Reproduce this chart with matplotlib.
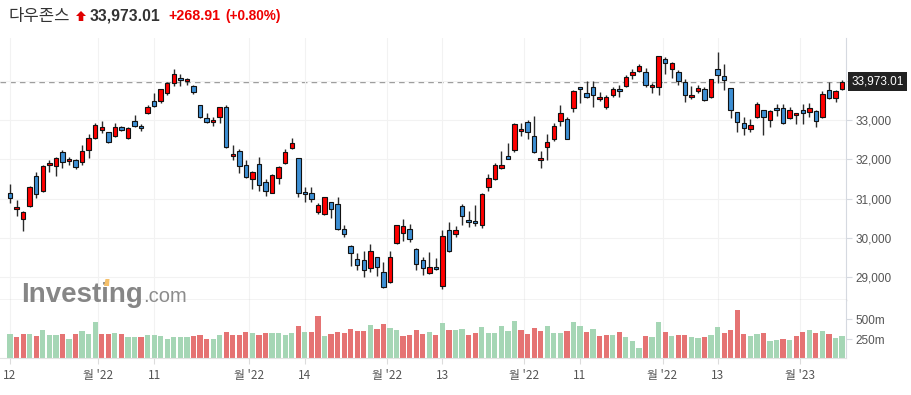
import matplotlib
matplotlib.use("Agg")
import matplotlib.pyplot as plt
from matplotlib.patches import Polygon
from matplotlib.transforms import blended_transform_factory, IdentityTransform

# daily OHLC, Dow Jones
opens = [31137, 30731, 30477, 30816, 31569, 31197, 31849, 31840, 32179, 31950,
         31984, 31925, 32229, 32551, 32754, 32687, 32585, 32814, 32534, 32966,
         32839, 33169, 33474, 33474, 33677, 33948, 34058, 33982, 33864, 33372,
         33042, 32941, 33068, 33322, 32077, 32212, 31849, 31493, 31874, 31417,
         31154, 31518, 31899, 32280, 32026, 31163, 31137, 30655, 30604, 30909,
         30858, 30223, 29791, 29478, 29435, 29232, 29512, 29131, 28885, 29867,
         30121, 30223, 29715, 29435, 29105, 29257, 28792, 30197, 30096, 30816,
         30451, 30426, 30333, 31290, 31493, 31772, 32086, 32238, 32712, 32941,
         32585, 31975, 32306, 32509, 32966, 33017, 33296, 33830, 33677, 33830,
         33525, 33322, 33627, 33779, 33855, 34135, 34236, 34211, 33830, 33830,
         34541, 34287, 34211, 33957, 33576, 33728, 33779, 33576, 34287, 34109,
         33805, 33195, 32915, 32763, 33068, 33245, 32991, 33296, 33296, 33042,
         33119, 33245, 33195, 33220, 33068, 33754, 33550, 33779]
highs = [31366, 30968, 30697, 31324, 31688, 31857, 31984, 32068, 32238, 32052,
         32001, 32365, 32644, 32915, 32983, 32704, 32915, 32848, 32831, 33127,
         32890, 33381, 33677, 33796, 33974, 34295, 34168, 34058, 33889, 33381,
         33169, 33068, 33339, 33381, 32365, 32255, 31984, 31705, 32052, 31501,
         31620, 31832, 32255, 32534, 32043, 31290, 31290, 30883, 31053, 30926,
         31036, 30333, 29825, 29630, 29681, 29842, 29528, 29385, 29664, 30341,
         30477, 30350, 29740, 29528, 29639, 29486, 30206, 30418, 30316, 30858,
         30688, 30841, 31137, 31620, 31899, 32221, 32407, 32915, 32915, 33000,
         33093, 32204, 32636, 32915, 33373, 33085, 33762, 33847, 33982, 33999,
         33703, 33635, 33847, 33889, 34143, 34295, 34422, 34312, 33931, 34634,
         34592, 34482, 34270, 34033, 33855, 33889, 33847, 34041, 34719, 34414,
         33805, 33212, 33068, 33017, 33449, 33262, 33254, 33398, 33398, 33322,
         33178, 33398, 33423, 33254, 33728, 33957, 33754, 34016]
lows = [30883, 30561, 30180, 30799, 31010, 31180, 31671, 31578, 31772, 31857,
        31747, 31857, 32026, 32526, 32678, 32424, 32560, 32729, 32526, 32814,
        32729, 33152, 33322, 33423, 33635, 33864, 33864, 33881, 33652, 33042,
        32915, 32856, 32915, 32280, 31984, 31662, 31518, 31247, 31205, 31078,
        31137, 31366, 31882, 32255, 31053, 30909, 30909, 30612, 30587, 30502,
        30206, 30020, 29291, 29190, 29004, 29148, 29037, 28733, 28868, 29850,
        29927, 29893, 29190, 29063, 29097, 29190, 28699, 29639, 30020, 30333,
        30291, 30308, 30248, 31197, 31476, 31764, 32009, 32196, 32602, 32509,
        32153, 31772, 31984, 32467, 32848, 32509, 33195, 33423, 33567, 33339,
        33491, 33271, 33576, 33593, 33847, 34033, 34211, 33847, 33694, 33627,
        34160, 34075, 33889, 33449, 33542, 33677, 33483, 33567, 33931, 33754,
        33042, 32687, 32611, 32687, 33042, 32611, 32831, 33093, 32898, 33017,
        32890, 32890, 33068, 32831, 33042, 33525, 33449, 33762]
closes = [31010, 30782, 30655, 31307, 31112, 31840, 31899, 32043, 31925, 32009,
          31798, 32212, 32534, 32865, 32814, 32433, 32831, 32754, 32805, 32856,
          32788, 33322, 33364, 33779, 33931, 34160, 34008, 34033, 33720, 33085,
          32941, 32992, 33322, 32306, 32128, 31823, 31544, 31671, 31340, 31188,
          31594, 31798, 32179, 32407, 31137, 31112, 30985, 30832, 31036, 30731,
          30223, 30096, 29613, 29308, 29181, 29681, 29257, 28750, 29512, 30324,
          30307, 29969, 29334, 29232, 29257, 29207, 30045, 29664, 30197, 30553,
          30401, 30375, 31112, 31518, 31849, 31849, 32018, 32890, 32763, 32687,
          32179, 32026, 32433, 32839, 33169, 32526, 33728, 33779, 33576, 33627,
          33576, 33576, 33779, 33728, 34101, 34211, 34363, 33881, 33881, 34617,
          34439, 34439, 33982, 33627, 33627, 33805, 33500, 34033, 34135, 34007,
          33245, 32941, 32788, 32864, 33398, 33068, 33220, 33245, 32915, 33245,
          33169, 33169, 33296, 32966, 33652, 33550, 33728, 33973.01]

# volume in millions, and its colour flag (g = green, r = red)
volumes = [312, 275, 312, 312, 291, 366, 300, 300, 312, 250,
           312, 354, 312, 462, 312, 312, 325, 312, 275, 275,
           275, 300, 300, 287, 250, 275, 275, 275, 287, 300,
           250, 250, 300, 337, 300, 300, 337, 325, 300, 325,
           325, 325, 300, 325, 412, 337, 337, 537, 287, 312,
           337, 325, 375, 350, 350, 425, 375, 437, 387, 362,
           287, 300, 362, 312, 337, 300, 450, 362, 362, 375,
           300, 325, 400, 325, 325, 412, 350, 475, 362, 312,
           387, 350, 412, 325, 325, 350, 462, 412, 337, 375,
           287, 300, 300, 337, 275, 225, 137, 287, 275, 462,
           337, 287, 300, 300, 275, 262, 275, 300, 400, 325,
           362, 612, 312, 287, 312, 325, 225, 237, 250, 237,
           287, 337, 362, 325, 350, 312, 262, 287]
vol_rows = ["grrgrgggrg", "rgggrrgrgg", "rgggggggrr", "rggrrrrgrr",
            "ggggrgrrgr", "rrrrrgrrgg", "rrrrgrgrgg", "rrggggggrr",
            "rrgggrggrg", "rrgrgggrgg", "rgrrggrggr", "rrrggrggrg",
            "rrgrgrgg"]
vol_dir = list("".join(vol_rows))

tick_pos = [0, 13.5, 22, 36.5, 45, 57.6, 66, 78.5, 87, 99.6, 108, 120.6]
tick_labels = ["12", "월 '22", "11", "월 '22", "14", "월 '22", "13",
               "월 '22", "11", "월 '22", "13", "월 '23"]

UP = "#ff0000"
DOWN = "#3d8fd4"
VOL_R = "#e57373"
VOL_G = "#a5d6b5"
GRID = "#f2f2f2"
TXT = "#555555"
kr = ["Noto Sans CJK KR", "DejaVu Sans"]
num = ["Liberation Sans", "DejaVu Sans"]

fig = plt.figure(figsize=(9.12, 3.95), dpi=100)
ax = fig.add_axes([0, 95 / 395, 846 / 912, 262 / 395])
axv = fig.add_axes([0, 37 / 395, 846 / 912, 58 / 395], sharex=ax)

x = list(range(len(closes)))
body_bot = [min(o, c) for o, c in zip(opens, closes)]
body_h = [max(abs(c - o), 25) for o, c in zip(opens, closes)]
cols = [UP if c >= o else DOWN for o, c in zip(opens, closes)]

ax.vlines(x, lows, highs, color="#2b2b2b", lw=1.0, zorder=2)
ax.bar(x, body_h, bottom=body_bot, width=0.68, color=cols,
       edgecolor="#111111", linewidth=0.8, zorder=3)
ax.axhline(closes[-1], color="#9a9a9a", lw=1, ls=(0, (4, 3)), zorder=1)

ax.set_xlim(-1.53, 127.6)
ax.set_ylim(28428, 35083)
ax.set_yticks([29000, 30000, 31000, 32000, 33000, 34000])
ax.set_yticklabels(["29,000", "30,000", "31,000", "32,000", "33,000", ""])
ax.yaxis.tick_right()
ax.tick_params(axis="y", length=4, color="#d5d9e0", labelcolor=TXT,
               labelsize=8.5, pad=3)
for lab in ax.get_yticklabels():
    lab.set_family(num)
ax.tick_params(axis="x", length=0, labelbottom=False)
ax.set_xticks(tick_pos)
ax.grid(True, color=GRID, lw=0.8, zorder=0)
for s in ["top", "left"]:
    ax.spines[s].set_visible(False)
ax.spines["right"].set_color("#d5d9e0")
ax.spines["bottom"].set_color("#c4c4c4")
ax.spines["bottom"].set_linewidth(1.0)

# last price tag
trans = blended_transform_factory(ax.transAxes, ax.transData)
ax.text(1.006, closes[-1], f"{closes[-1]:,.2f}", transform=trans,
        ha="left", va="center", color="white", fontsize=8.5, family=num,
        bbox=dict(boxstyle="square,pad=0.3", fc="#222222", ec="none"),
        clip_on=False, zorder=5)

# volume
vcols = [VOL_G if d == "g" else VOL_R for d in vol_dir]
axv.bar(x, volumes, width=0.8, color=vcols, zorder=2)
axv.set_ylim(16, 741)
axv.set_yticks([250, 500])
axv.set_yticklabels(["250m", "500m"])
axv.yaxis.tick_right()
axv.tick_params(axis="y", length=4, color="#d5d9e0", labelcolor=TXT,
                labelsize=8.5, pad=3)
for lab in axv.get_yticklabels():
    lab.set_family(num)
axv.set_xticks(tick_pos)
axv.set_xticklabels(tick_labels)
axv.tick_params(axis="x", length=4, color="#dcdcdc", labelcolor=TXT,
                labelsize=8.5, pad=4)
for lab in axv.get_xticklabels():
    lab.set_family(kr)
axv.grid(True, axis="x", color=GRID, lw=0.8, zorder=0)
for s in ["top", "left"]:
    axv.spines[s].set_visible(False)
axv.spines["right"].set_color("#d5d9e0")
axv.spines["bottom"].set_color("#e2e2e2")

# header
H = 395
fig.text(9 / 912, 1 - 16 / H, "다우존스", family=kr, fontsize=12,
         color="#333333", va="center")
arrow = [(81, 11), (86, 16), (83.3, 16), (83.3, 21), (78.7, 21),
         (78.7, 16), (76, 16)]
fig.patches.append(Polygon([(px, H - py) for px, py in arrow], closed=True,
                           fc="#e00000", ec="none",
                           transform=IdentityTransform()))
fig.text(90 / 912, 1 - 16 / H, "33,973.01", family=num, fontsize=11.3,
         weight="bold", color="#333333", va="center")
fig.text(168 / 912, 1 - 16 / H, "+268.91", family=num, fontsize=10.3,
         weight="bold", color="#ee0000", va="center")
fig.text(225 / 912, 1 - 16 / H, "(+0.80%)", family=num, fontsize=9.8,
         weight="bold", color="#ee0000", va="center")

# watermark
fig.text(21 / 912, 1 - 302 / H, "Investing", family=num, fontsize=20,
         weight="bold", color="#868686", va="baseline", zorder=10)
fig.text(143 / 912, 1 - 302 / H, ".com", family=num, fontsize=14.5,
         color="#8c8c8c", va="baseline", zorder=10)
dot = [(104, 286), (109, 286), (109.5, 279), (105.5, 279)]
fig.patches.append(Polygon([(px, H - py) for px, py in dot], closed=True,
                           fc="#f5c06a", ec="none", zorder=11,
                           transform=IdentityTransform()))

fig.savefig("out.png", dpi=100)
